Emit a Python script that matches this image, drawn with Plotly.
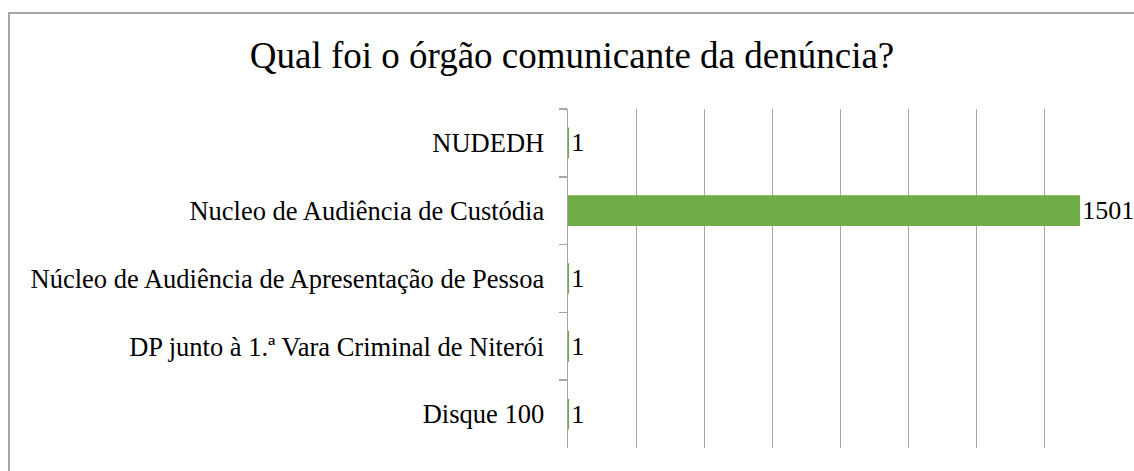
import plotly.graph_objects as go

categories = [
    "NUDEDH",
    "Nucleo de Audiência de Custódia",
    "Núcleo de Audiência de Apresentação de Pessoa",
    "DP junto à 1.ª Vara Criminal de Niterói",
    "Disque 100",
]
values = [1, 1501, 1, 1, 1]
title_text = "Qual foi o órgão comunicante da denúncia?"

W, H = 1134, 471
L, T = 568, 109
R = W - 1113
B = H - 448
pw, ph = W - L - R, H - T - B

FONT = "Liberation Serif, Times New Roman, serif"
GREEN = "#70AD47"
GRAY = "#A6A6A6"

fig = go.Figure(
    go.Bar(
        y=categories,
        x=values,
        orientation="h",
        marker=dict(color=GREEN, line=dict(color=GREEN, width=1.5)),
        text=[str(v) for v in values],
        textposition="outside",
        textfont=dict(family=FONT, size=26, color="black"),
        cliponaxis=False,
        hoverinfo="skip",
    )
)

# chart border (left and top visible; extends beyond right/bottom)
fig.add_shape(
    type="rect", xref="paper", yref="paper",
    x0=(9 - L) / pw, x1=(W + 20 - L) / pw,
    y0=-(B + 20) / ph, y1=(H - 13 - B) / ph,
    line=dict(color=GRAY, width=2), fillcolor="rgba(0,0,0,0)", layer="below",
)

fig.update_layout(
    width=W, height=H,
    margin=dict(l=L, r=R, t=T, b=B, pad=0),
    paper_bgcolor="white", plot_bgcolor="white",
    showlegend=False,
    bargap=0.57,
    font=dict(family=FONT, size=26, color="black"),
    title=dict(
        text=title_text,
        font=dict(family=FONT, size=37, color="black"),
        x=572 / W, xanchor="center",
        y=1 - 55 / H, yanchor="middle",
    ),
    xaxis=dict(
        range=[0, 1600], dtick=200, tick0=0,
        showgrid=True, gridcolor=GRAY, gridwidth=1,
        showticklabels=False, zeroline=False, showline=False, ticks="",
        fixedrange=True,
    ),
    yaxis=dict(
        autorange="reversed",
        showline=True, linecolor=GRAY, linewidth=1.5,
        ticks="outside", ticklen=8, tickcolor=GRAY, tickwidth=1.5,
        tickson="boundaries",
        ticklabelstandoff=17,
        showgrid=False, zeroline=False,
        tickfont=dict(family=FONT, size=26.5, color="black"),
        fixedrange=True,
    ),
)

fig.write_html(
    "out.html",
    config={"displayModeBar": False, "staticPlot": True},
    post_script=(
        "document.body.style.margin='0';"
        "document.documentElement.style.overflow='hidden';"
        "document.body.style.overflow='hidden';"
    ),
)
